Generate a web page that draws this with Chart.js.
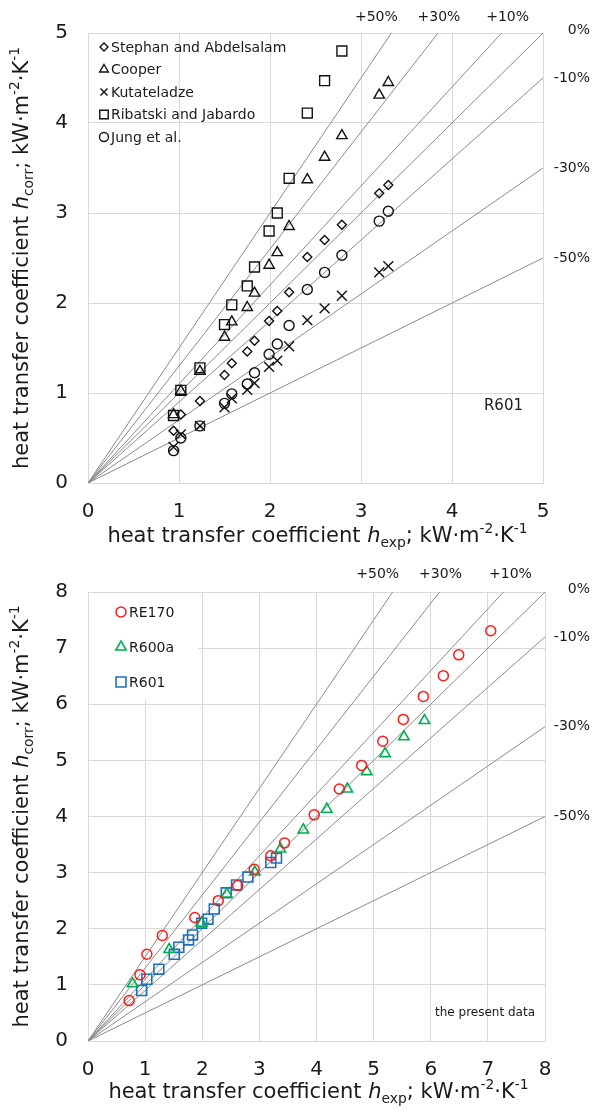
<!DOCTYPE html>
<html><head><meta charset="utf-8">
<script src="https://cdn.jsdelivr.net/npm/chart.js@4.4.1/dist/chart.umd.min.js"></script>
<style>
html,body{margin:0;padding:0;background:#fff;}
#wrap{width:594px;height:1113px;position:relative;overflow:hidden;}
canvas{display:block;}
</style></head><body>
<div id="wrap">
<canvas id="c1" width="594" height="556"></canvas>
<canvas id="c2" width="594" height="557"></canvas>
</div>
<script>
// ---------- data: top chart (R601, literature correlations) ----------
const hExpLit   = [0.94,1.02,1.23,1.50,1.58,1.75,1.83,1.99,2.08,2.21,2.41,2.60,2.79,3.20,3.30];
const stephan   = [0.58,0.76,0.91,1.20,1.33,1.46,1.58,1.80,1.91,2.12,2.51,2.70,2.87,3.22,3.31];
const cooper    = [0.76,1.02,1.24,1.62,1.79,1.95,2.11,2.42,2.56,2.85,3.37,3.62,3.86,4.31,4.45];
const kutat     = [0.40,0.54,0.635,0.84,0.94,1.035,1.11,1.29,1.36,1.52,1.81,1.94,2.08,2.34,2.41];
const ribatski  = [0.75,1.03,1.28,1.76,1.98,2.19,2.40,2.80,3.00,3.385,4.11,4.47,4.80];
const jung      = [0.36,0.50,0.635,0.885,0.99,1.10,1.225,1.43,1.545,1.75,2.15,2.34,2.53,2.91,3.02];
const litNames  = ['Stephan and Abdelsalam','Cooper','Kutateladze','Ribatski and Jabardo','Jung et al.'];

// ---------- data: bottom chart (present data) ----------
const re170X = [0.72,0.91,1.03,1.30,1.87,2.28,2.62,2.91,3.20,3.44,3.96,4.40,4.79,5.16,5.52,5.87,6.22,6.49,7.05];
const re170Y = [0.72,1.18,1.545,1.88,2.20,2.50,2.77,3.06,3.30,3.53,4.03,4.49,4.91,5.34,5.73,6.14,6.51,6.88,7.31];
const r600aX = [0.78,1.42,1.99,2.43,2.92,3.37,3.77,4.18,4.54,4.88,5.20,5.53,5.89];
const r600aY = [1.02,1.63,2.10,2.62,3.01,3.42,3.76,4.13,4.49,4.80,5.12,5.42,5.71];
const r601X  = [0.94,1.03,1.24,1.51,1.59,1.76,1.83,1.99,2.10,2.21,2.42,2.60,2.80,3.20,3.30];
const r601Y  = [0.90,1.10,1.28,1.545,1.67,1.80,1.89,2.10,2.17,2.35,2.64,2.78,2.92,3.18,3.26];
const presNames = ['RE170','R600a','R601'];

// ---------- deviation lines ----------
const devPct    = [50,30,10,0,-10,-30,-50];
const devLabels = ['+50%','+30%','+10%','0%','-10%','-30%','-50%'];
const topMax = 5, botMax = 8;

const FONT = "'DejaVu Sans', Verdana, sans-serif";

function pts(xs, ys){ return ys.map((y,i)=>({x:xs[i], y:y})); }
function devLineDatasets(max){
  return devPct.map((p,i)=>{
    const k = 1 + p/100;
    const end = k > 1 ? {x: max/k, y: max} : {x: max, y: max*k};
    return {type:'line', label:devLabels[i], data:[{x:0,y:0}, end], borderColor:'#8a8a8a',
      borderWidth:1, pointRadius:0, fill:false, order:10, isDev:true, devK:k, devIdx:i};
  });
}

function drawMarker(ctx, style, x, y, r, color, lw){
  ctx.save(); ctx.strokeStyle = color; ctx.lineWidth = lw; ctx.beginPath();
  if (style==='circle'){ ctx.arc(x,y,r,0,Math.PI*2); }
  else if (style==='rect'){ const s=r*Math.SQRT1_2; ctx.rect(x-s,y-s,2*s,2*s); }
  else if (style==='rectRot'){ ctx.moveTo(x,y-r); ctx.lineTo(x+r,y); ctx.lineTo(x,y+r); ctx.lineTo(x-r,y); ctx.closePath(); }
  else if (style==='triangle'){ const w=r*Math.sqrt(3); ctx.moveTo(x,y-r); ctx.lineTo(x+w/2,y+r/2); ctx.lineTo(x-w/2,y+r/2); ctx.closePath(); }
  else if (style==='crossRot'){ const s=r*Math.SQRT1_2; ctx.moveTo(x-s,y-s); ctx.lineTo(x+s,y+s); ctx.moveTo(x+s,y-s); ctx.lineTo(x-s,y+s); }
  ctx.stroke(); ctx.restore();
}

function drawRich(ctx, segs, size, color){
  const parts = segs.map(s=>{
    const sz = (s.sub||s.sup) ? size*0.66 : size;
    const f = (s.it?'italic ':'') + sz + 'px ' + FONT;
    ctx.font = f;
    return {t:s.t, f:f, w:ctx.measureText(s.t).width, dy: s.sub? size*0.32 : (s.sup? -size*0.36 : 0)};
  });
  const total = parts.reduce((a,p)=>a+p.w,0);
  let x = -total/2;
  ctx.fillStyle = color; ctx.textBaseline = 'middle'; ctx.textAlign = 'left';
  parts.forEach(p=>{ ctx.font = p.f; ctx.fillText(p.t, x, p.dy); x += p.w; });
}

const deco = {
  id:'deco',
  beforeDatasetsDraw(chart, args, o){
    if (o.legendBox){
      const a = chart.chartArea, ctx = chart.ctx;
      ctx.save(); ctx.fillStyle='#fff';
      ctx.fillRect(a.left+1, a.top+1, o.legendBox.w, o.legendBox.h); ctx.restore();
    }
  },
  afterDraw(chart, args, o){
    const ctx = chart.ctx, a = chart.chartArea, xs = chart.scales.x, ys = chart.scales.y;
    ctx.save(); ctx.translate((a.left+a.right)/2 + o.xTitleDX, a.bottom + o.xTitleDY);
    drawRich(ctx, o.xTitle, o.titleSize, '#1a1a1a'); ctx.restore();
    ctx.save(); ctx.translate(o.yTitleX, (a.top+a.bottom)/2); ctx.rotate(-Math.PI/2);
    drawRich(ctx, o.yTitle, o.titleSize, '#1a1a1a'); ctx.restore();
    ctx.save(); ctx.font = o.pctSize + 'px ' + FONT; ctx.fillStyle = '#1a1a1a'; ctx.textBaseline='middle';
    chart.data.datasets.forEach(ds=>{
      if (!ds.isDev) return;
      const end = ds.data[1];
      const px = xs.getPixelForValue(end.x), py = ys.getPixelForValue(end.y);
      if (ds.devK > 1){
        ctx.textAlign='center';
        ctx.fillText(ds.label, px + o.topOffsets[ds.devIdx], a.top - o.topLabelDY);
      } else {
        ctx.textAlign='right';
        ctx.fillText(ds.label, chart.width - 4, py + (ds.devK===1 ? -3 : 0));
      }
    });
    ctx.restore();
    ctx.save(); ctx.font = o.legendSize + 'px ' + FONT; ctx.fillStyle = '#1a1a1a';
    ctx.textBaseline='middle'; ctx.textAlign='left';
    let row = 0;
    chart.data.datasets.forEach(ds=>{
      if (ds.isDev) return;
      const y = a.top + o.legendTop + row*o.legendGap;
      drawMarker(ctx, ds.pointStyle, a.left + o.legendMX, y, o.legendR[row], ds.borderColor, ds.borderWidth);
      ctx.fillText(ds.label, a.left + o.legendTX, y+1);
      row++;
    });
    ctx.restore();
    ctx.save(); ctx.font = o.noteSize + 'px ' + FONT; ctx.fillStyle='#1a1a1a';
    ctx.textAlign='right'; ctx.textBaseline='middle';
    ctx.fillText(o.note, a.right - o.noteDX, a.bottom - o.noteDY); ctx.restore();
  }
};

function axis(max, fitProp, fitVal, pad){
  return {type:'linear', min:0, max:max,
    ticks:{stepSize:1, font:{size:20, family:FONT}, color:'#1a1a1a', padding:pad, maxRotation:0, autoSkip:false},
    grid:{color:'#d9d9d9', drawTicks:false, lineWidth:1},
    border:{color:'#d9d9d9'},
    afterFit(s){ s[fitProp] = fitVal; }};
}

const xTitle = [{t:'heat transfer coefficient '},{t:'h',it:true},{t:'exp',sub:true},{t:'; kW·m'},{t:'-2',sup:true},{t:'·K'},{t:'-1',sup:true}];
const yTitle = [{t:'heat transfer coefficient '},{t:'h',it:true},{t:'corr',sub:true},{t:'; kW·m'},{t:'-2',sup:true},{t:'·K'},{t:'-1',sup:true}];

function sc(label, data, style, r, color, lw){
  return {type:'scatter', label:label, data:data, pointStyle:style, pointRadius:r, pointHoverRadius:r,
    borderColor:color, backgroundColor:'rgba(0,0,0,0)', borderWidth:lw, pointBorderWidth:lw, order:0};
}

const topSets = [
  sc(litNames[0], pts(hExpLit, stephan), 'rectRot', 4.5, '#111', 1.4),
  sc(litNames[1], pts(hExpLit, cooper), 'triangle', 6, '#111', 1.4),
  sc(litNames[2], pts(hExpLit, kutat), 'crossRot', 7, '#111', 1.4),
  sc(litNames[3], pts(hExpLit, ribatski), 'rect', 7, '#111', 1.4),
  sc(litNames[4], pts(hExpLit, jung), 'circle', 5, '#111', 1.4),
].concat(devLineDatasets(topMax));

new Chart(document.getElementById('c1'), {
  data:{datasets:topSets},
  options:{responsive:false, animation:false, devicePixelRatio:1,
    layout:{padding:{left:0,right:51,top:33,bottom:0}},
    scales:{x:axis(topMax,'height',73,17), y:axis(topMax,'width',88,20)},
    plugins:{legend:{display:false}, tooltip:{enabled:false},
      deco:{xTitle:xTitle, yTitle:yTitle, titleSize:21, xTitleDX:2, xTitleDY:54, yTitleX:23,
        pctSize:14, topOffsets:[-15,1,6], topLabelDY:16,
        legendSize:14, legendTop:14, legendGap:22.5, legendMX:16, legendTX:23, legendR:[4,5,5,6,4.5],
        note:'R601', noteSize:15, noteDX:20, noteDY:77}}},
  plugins:[deco]
});

const botSets = [
  sc(presNames[0], pts(re170X, re170Y), 'circle', 5, '#ff1a1a', 1.5),
  sc(presNames[1], pts(r600aX, r600aY), 'triangle', 6, '#00b050', 1.6),
  sc(presNames[2], pts(r601X, r601Y), 'rect', 7, '#1f6fc0', 1.6),
].concat(devLineDatasets(botMax));

new Chart(document.getElementById('c2'), {
  data:{datasets:botSets},
  options:{responsive:false, animation:false, devicePixelRatio:1,
    layout:{padding:{left:0,right:49,top:36,bottom:0}},
    scales:{x:axis(botMax,'height',72,17), y:axis(botMax,'width',88,20)},
    plugins:{legend:{display:false}, tooltip:{enabled:false},
      deco:{xTitle:xTitle, yTitle:yTitle, titleSize:21, xTitleDX:2, xTitleDY:52, yTitleX:23,
        pctSize:14, topOffsets:[-15,1,7], topLabelDY:18,
        legendBox:{w:109, h:107},
        legendSize:14, legendTop:20, legendGap:35, legendMX:33, legendTX:41, legendR:[5,6,7],
        note:'the present data', noteSize:12, noteDX:10, noteDY:28}}},
  plugins:[deco]
});
</script>
</body></html>
